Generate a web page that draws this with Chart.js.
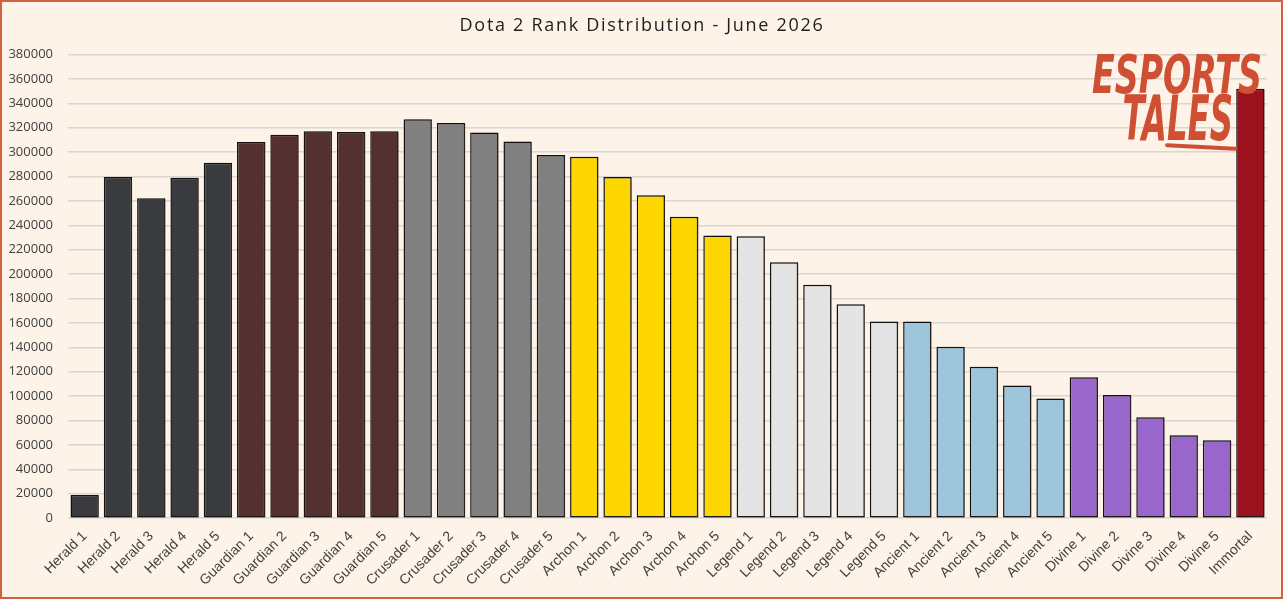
<!DOCTYPE html>
<html>
<head>
<meta charset="utf-8">
<title>Dota 2 Rank Distribution - June 2026</title>
<script src="https://cdn.jsdelivr.net/npm/chart.js@4.4.1/dist/chart.umd.min.js"></script>
<style>
  html, body { margin: 0; padding: 0; background: #fdf3e8; }
  #wrap {
    position: relative;
    width: 1283px; height: 599px;
    box-sizing: border-box;
    border: 2px solid #d3603f;
    background: #fdf3e8;
  }
  .logo {
    position: absolute;
    color: #cf4f33;
    font-family: "DejaVu Sans Condensed", "Liberation Sans Narrow", sans-serif;
    font-weight: bold; font-style: italic;
    line-height: 1;
    white-space: nowrap;
    transform-origin: right top;
    pointer-events: none;
  }
  #logo1 { right: 19px; top: 46px; font-size: 37px; transform: scaleY(1.45); }
  #logo2 { right: 48px; top: 85px; font-size: 36px; transform: scaleY(1.75); }
  #logoLine { position: absolute; right: 44px; top: 143px; width: 72px; height: 4px;
              background: #cf4f33; border-radius: 2px; transform: rotate(3deg); }
</style>
</head>
<body>
<div id="wrap">
  <canvas id="rankChart"></canvas>
  <div class="logo" id="logo1">ESPORTS</div>
  <div class="logo" id="logo2">TALES</div>
  <div id="logoLine"></div>
</div>
<script>
// rank tiers shown along the x axis
const ranks = [
  'Herald 1', 'Herald 2', 'Herald 3', 'Herald 4', 'Herald 5',
  'Guardian 1', 'Guardian 2', 'Guardian 3', 'Guardian 4', 'Guardian 5',
  'Crusader 1', 'Crusader 2', 'Crusader 3', 'Crusader 4', 'Crusader 5',
  'Archon 1', 'Archon 2', 'Archon 3', 'Archon 4', 'Archon 5',
  'Legend 1', 'Legend 2', 'Legend 3', 'Legend 4', 'Legend 5',
  'Ancient 1', 'Ancient 2', 'Ancient 3', 'Ancient 4', 'Ancient 5',
  'Divine 1', 'Divine 2', 'Divine 3', 'Divine 4', 'Divine 5',
  'Immortal'
];

// players per rank
const players = [
  19000, 279600, 262200, 279000, 291400,
  308400, 314200, 317200, 316600, 317200,
  327000, 323900, 316100, 308700, 297700,
  296300, 279600, 264800, 247000, 231700,
  231100, 209700, 191400, 175400, 161200,
  161200, 140600, 124200, 108800, 98100,
  115400, 100900, 82800, 68000, 63900,
  352000
];

// one colour per medal
const medalColors = {
  Herald: '#3a3b3f',
  Guardian: '#543031',
  Crusader: '#808080',
  Archon: '#ffd700',
  Legend: '#e4e4e4',
  Ancient: '#9dc6dd',
  Divine: '#9966cc',
  Immortal: '#9b111e'
};

const yMax = 380000;
const yStep = 20000;

const barColors = ranks.map(r => medalColors[r.split(' ')[0]]);

const barShadow = {
  id: 'barShadow',
  beforeDatasetDraw(chart) {
    const ctx = chart.ctx;
    ctx.save();
    ctx.shadowColor = 'rgba(60,50,40,0.45)';
    ctx.shadowOffsetX = 3;
    ctx.shadowOffsetY = 1;
    ctx.shadowBlur = 2;
  },
  afterDatasetDraw(chart) {
    chart.ctx.restore();
  }
};

// spaced-out title letters, centred on the whole canvas
const titleSpacing = {
  id: 'titleSpacing',
  afterLayout(chart) {
    const t = chart.titleBlock;
    if (!t || t._spaced) return;
    const orig = t.draw.bind(t);
    t.draw = function (area) {
      const ctx = chart.ctx;
      ctx.save();
      ctx.letterSpacing = '1.7px';
      ctx.translate(5, 0);
      orig(area);
      ctx.restore();
    };
    t._spaced = true;
  }
};

new Chart(document.getElementById('rankChart'), {
  type: 'bar',
  data: {
    labels: ranks,
    datasets: [{
      label: 'Players',
      data: players,
      backgroundColor: barColors,
      borderColor: '#111111',
      borderWidth: 1.5,
      borderSkipped: false,
      categoryPercentage: 1,
      barPercentage: 0.85
    }]
  },
  options: {
    responsive: true,
    maintainAspectRatio: false,
    animation: false,
    layout: { padding: { left: 5, right: 14, top: 0, bottom: 6 } },
    plugins: {
      legend: { display: false },
      tooltip: { enabled: false },
      title: {
        display: true,
        text: 'Dota 2 Rank Distribution - June 2026',
        color: '#1e1e1e',
        font: { family: 'Open Sans', size: 18, weight: 'normal' },
        padding: { top: 13, bottom: 18 }
      }
    },
    scales: {
      x: {
        grid: { display: false },
        border: { display: false },
        ticks: {
          color: '#404040',
          font: { family: 'Liberation Sans', size: 14 },
          minRotation: 45,
          maxRotation: 45,
          autoSkip: false,
          padding: 2
        },
        afterFit(scale) {
          scale.paddingLeft = 0;
        }
      },
      y: {
        min: 0,
        max: yMax,
        grid: { color: '#dcd6d0', lineWidth: 1.5, drawTicks: false },
        border: { display: false },
        ticks: {
          stepSize: yStep,
          color: '#404040',
          font: { family: 'Open Sans', size: 13 },
          padding: 15,
          callback: v => String(v)
        },
        afterFit(scale) {
          scale.width = 61;
        }
      }
    }
  },
  plugins: [barShadow, titleSpacing]
});
</script>
</body>
</html>
